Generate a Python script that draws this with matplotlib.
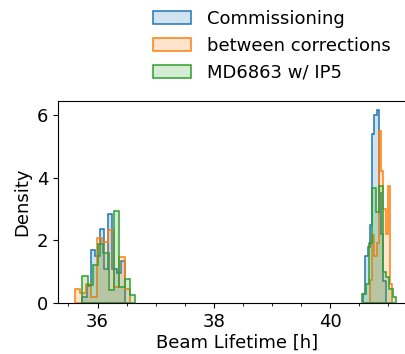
import numpy as np
import matplotlib
matplotlib.use("Agg")
import matplotlib.pyplot as plt
from matplotlib.ticker import MultipleLocator

labels = ["Commissioning", "between corrections", "MD6863 w/ IP5"]
colors = ["#1f77b4", "#ff7f0e", "#2ca02c"]

# left cluster (10 bins each): range and densities
left_range = {
    "Commissioning": (35.738, 36.479),
    "between corrections": (35.607, 36.564),
    "MD6863 w/ IP5": (35.738, 36.650),
}
left_dens = {
    "Commissioning": [0.2, 0.55, 1.68, 1.5, 2.36, 1.1, 2.85, 1.09, 0.95, 1.35],
    "between corrections": [0.44, 0.33, 0.61, 0.2, 2.07, 1.95, 2.34, 0.52, 1.47, 0.44],
    "MD6863 w/ IP5": [0.87, 0.58, 1.22, 1.89, 1.6, 0.4, 2.93, 0.5, 0.76, 0.26],
}
# right cluster (10 bins each)
right_range = {
    "Commissioning": (40.567, 40.960),
    "between corrections": (40.686, 41.072),
    "MD6863 w/ IP5": (40.554, 41.140),
}
right_dens = {
    "Commissioning": [0.3, 1.5, 1.8, 2.5, 5.4, 6.0, 6.15, 3.5, 2.2, 0.7],
    "between corrections": [0.75, 2.18, 1.5, 1.9, 5.49, 4.2, 3.0, 2.2, 3.73, 0.6],
    "MD6863 w/ IP5": [0.3, 0.6, 1.9, 3.67, 2.9, 3.75, 1.0, 0.84, 0.45, 0.2],
}

plt.rcParams["font.size"] = 13
fig = plt.figure(figsize=(4.06, 3.54), dpi=100)
ax = fig.add_axes([58 / 406, 1 - 303 / 354, (416 - 58) / 406, (303 - 101) / 354])

for lab, col in zip(labels, colors):
    for rng, dens in ((left_range, left_dens), (right_range, right_dens)):
        edges = np.linspace(rng[lab][0], rng[lab][1], len(dens[lab]) + 1)
        centers = 0.5 * (edges[:-1] + edges[1:])
        ax.hist(centers, bins=edges, weights=dens[lab], histtype="stepfilled",
                facecolor=matplotlib.colors.to_rgba(col, 0.2), edgecolor=col,
                linewidth=1.1, label=lab if rng is left_range else None)

ax.set_xlim(35.32, 41.48)
ax.set_ylim(0, 6.45)
ax.xaxis.set_major_locator(MultipleLocator(2))
ax.xaxis.set_minor_locator(MultipleLocator(0.5))
ax.yaxis.set_major_locator(MultipleLocator(2))
ax.set_xlabel("Beam Lifetime [h]", labelpad=2)
ax.set_ylabel("Density")

fig.legend(loc="upper left", bbox_to_anchor=(144 / 406, 1 - 0.5 / 354), frameon=False,
           borderpad=0, labelspacing=0.5, handlelength=2.1, handletextpad=0.9,
           handleheight=0.7)

fig.savefig("out.png", dpi=100)
